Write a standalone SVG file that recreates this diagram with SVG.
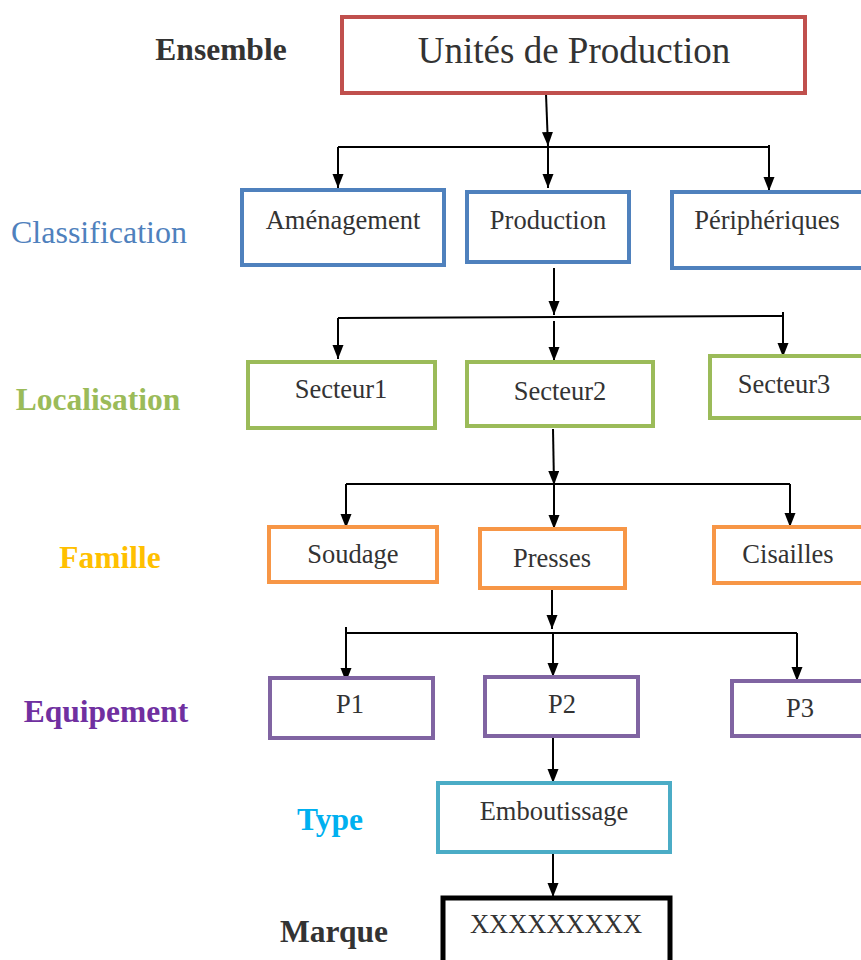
<svg xmlns="http://www.w3.org/2000/svg" width="861" height="960" viewBox="0 0 861 960">
  <defs>
    <marker id="arrow" markerUnits="userSpaceOnUse" markerWidth="15" markerHeight="12" refX="14" refY="5.5" orient="auto">
      <path d="M0,0 L14,5.5 L0,11 Z" fill="#000"/>
    </marker>
    <style>
      .box { fill: #fff; stroke-width: 4; }
      .red { stroke: #C0504D; }
      .blue { stroke: #4F81BD; }
      .green { stroke: #9BBB59; }
      .orange { stroke: #F79646; }
      .purple { stroke: #8064A2; }
      .cyan { stroke: #4BACC6; }
      .black { stroke: #000; stroke-width: 5; }
      .node-text { font-family: "Liberation Serif", "Times New Roman", serif; font-size: 26.5px; fill: #333; text-anchor: middle; }
      .title-text { font-size: 37px; }
      .level { font-family: "Liberation Serif", "Times New Roman", serif; font-size: 31.5px; font-weight: bold; text-anchor: middle; }
      .level-regular { font-weight: normal; font-size: 32px; }
      .wire { stroke: #000; stroke-width: 2; fill: none; }
      .arr { stroke: #000; stroke-width: 2; fill: none; marker-end: url(#arrow); }
    </style>
  </defs>
  <rect width="861" height="960" fill="#fff"/>

  <!-- level names -->
  <g id="levels">
    <text class="level" x="221" y="60" fill="#333">Ensemble</text>
    <text class="level level-regular" x="99" y="243" fill="#4F81BD">Classification</text>
    <text class="level" x="98" y="410" fill="#9BBB59">Localisation</text>
    <text class="level" x="110" y="568" fill="#FFC000">Famille</text>
    <text class="level" x="106" y="722" fill="#7030A0">Equipement</text>
    <text class="level" x="330" y="830" fill="#00B0F0">Type</text>
    <text class="level" x="334" y="942" fill="#333">Marque</text>
  </g>

  <!-- connectors -->
  <g id="connectors">
    <path class="arr" d="M546,94 L548,146"/>
    <path class="wire" d="M338,147 L769,147"/>
    <path class="arr" d="M338,147 L338,188"/>
    <path class="arr" d="M548,147 L548,188"/>
    <path class="arr" d="M769,145 L769,191"/>

    <path class="arr" d="M554,268 L554,315"/>
    <path class="wire" d="M338,318 L783,316"/>
    <path class="arr" d="M338,318 L338,359"/>
    <path class="arr" d="M554,321 L554,361"/>
    <path class="arr" d="M783,312 L783,357"/>

    <path class="arr" d="M553,429 L554,485"/>
    <path class="wire" d="M346,484 L790,484"/>
    <path class="arr" d="M346,484 L346,528"/>
    <path class="arr" d="M554,484 L554,529"/>
    <path class="arr" d="M790,484 L790,527"/>

    <path class="arr" d="M552,589 L552,629"/>
    <path class="wire" d="M346,633 L797,633"/>
    <path class="arr" d="M346,627 L346,682"/>
    <path class="arr" d="M553,633 L553,677"/>
    <path class="arr" d="M797,633 L797,681"/>

    <path class="arr" d="M553,737 L553,783"/>
    <path class="arr" d="M553,853 L553,897"/>
  </g>

  <!-- nodes -->
  <g id="n-unites">
    <rect class="box red" x="342" y="17" width="463" height="76"/>
    <text class="node-text title-text" x="574" y="63">Unités de Production</text>
  </g>

  <g id="n-amenagement">
    <rect class="box blue" x="242" y="190" width="202" height="75"/>
    <text class="node-text" x="343" y="229">Aménagement</text>
  </g>
  <g id="n-production">
    <rect class="box blue" x="467" y="192" width="162" height="70"/>
    <text class="node-text" x="548" y="229">Production</text>
  </g>
  <g id="n-peripheriques">
    <rect class="box blue" x="672" y="192" width="195" height="76"/>
    <text class="node-text" x="767" y="229">Périphériques</text>
  </g>

  <g id="n-secteur1">
    <rect class="box green" x="248" y="362" width="187" height="66"/>
    <text class="node-text" x="341" y="398">Secteur1</text>
  </g>
  <g id="n-secteur2">
    <rect class="box green" x="467" y="362" width="186" height="64"/>
    <text class="node-text" x="560" y="400">Secteur2</text>
  </g>
  <g id="n-secteur3">
    <rect class="box green" x="710" y="356" width="155" height="62"/>
    <text class="node-text" x="784" y="393">Secteur3</text>
  </g>

  <g id="n-soudage">
    <rect class="box orange" x="269" y="527" width="168" height="55"/>
    <text class="node-text" x="353" y="563">Soudage</text>
  </g>
  <g id="n-presses">
    <rect class="box orange" x="480" y="529" width="145" height="59"/>
    <text class="node-text" x="552" y="567">Presses</text>
  </g>
  <g id="n-cisailles">
    <rect class="box orange" x="714" y="527" width="153" height="56"/>
    <text class="node-text" x="788" y="563">Cisailles</text>
  </g>

  <g id="n-p1">
    <rect class="box purple" x="270" y="678" width="163" height="60"/>
    <text class="node-text" x="350" y="713">P1</text>
  </g>
  <g id="n-p2">
    <rect class="box purple" x="485" y="677" width="153" height="59"/>
    <text class="node-text" x="562" y="713">P2</text>
  </g>
  <g id="n-p3">
    <rect class="box purple" x="732" y="681" width="135" height="55"/>
    <text class="node-text" x="800" y="717">P3</text>
  </g>

  <g id="n-emboutissage">
    <rect class="box cyan" x="438" y="783" width="232" height="69"/>
    <text class="node-text" x="554" y="820">Emboutissage</text>
  </g>

  <g id="n-marque">
    <rect class="box black" x="443" y="898" width="227" height="70"/>
    <text class="node-text" x="556" y="933" fill="#404040">XXXXXXXXX</text>
  </g>
</svg>
